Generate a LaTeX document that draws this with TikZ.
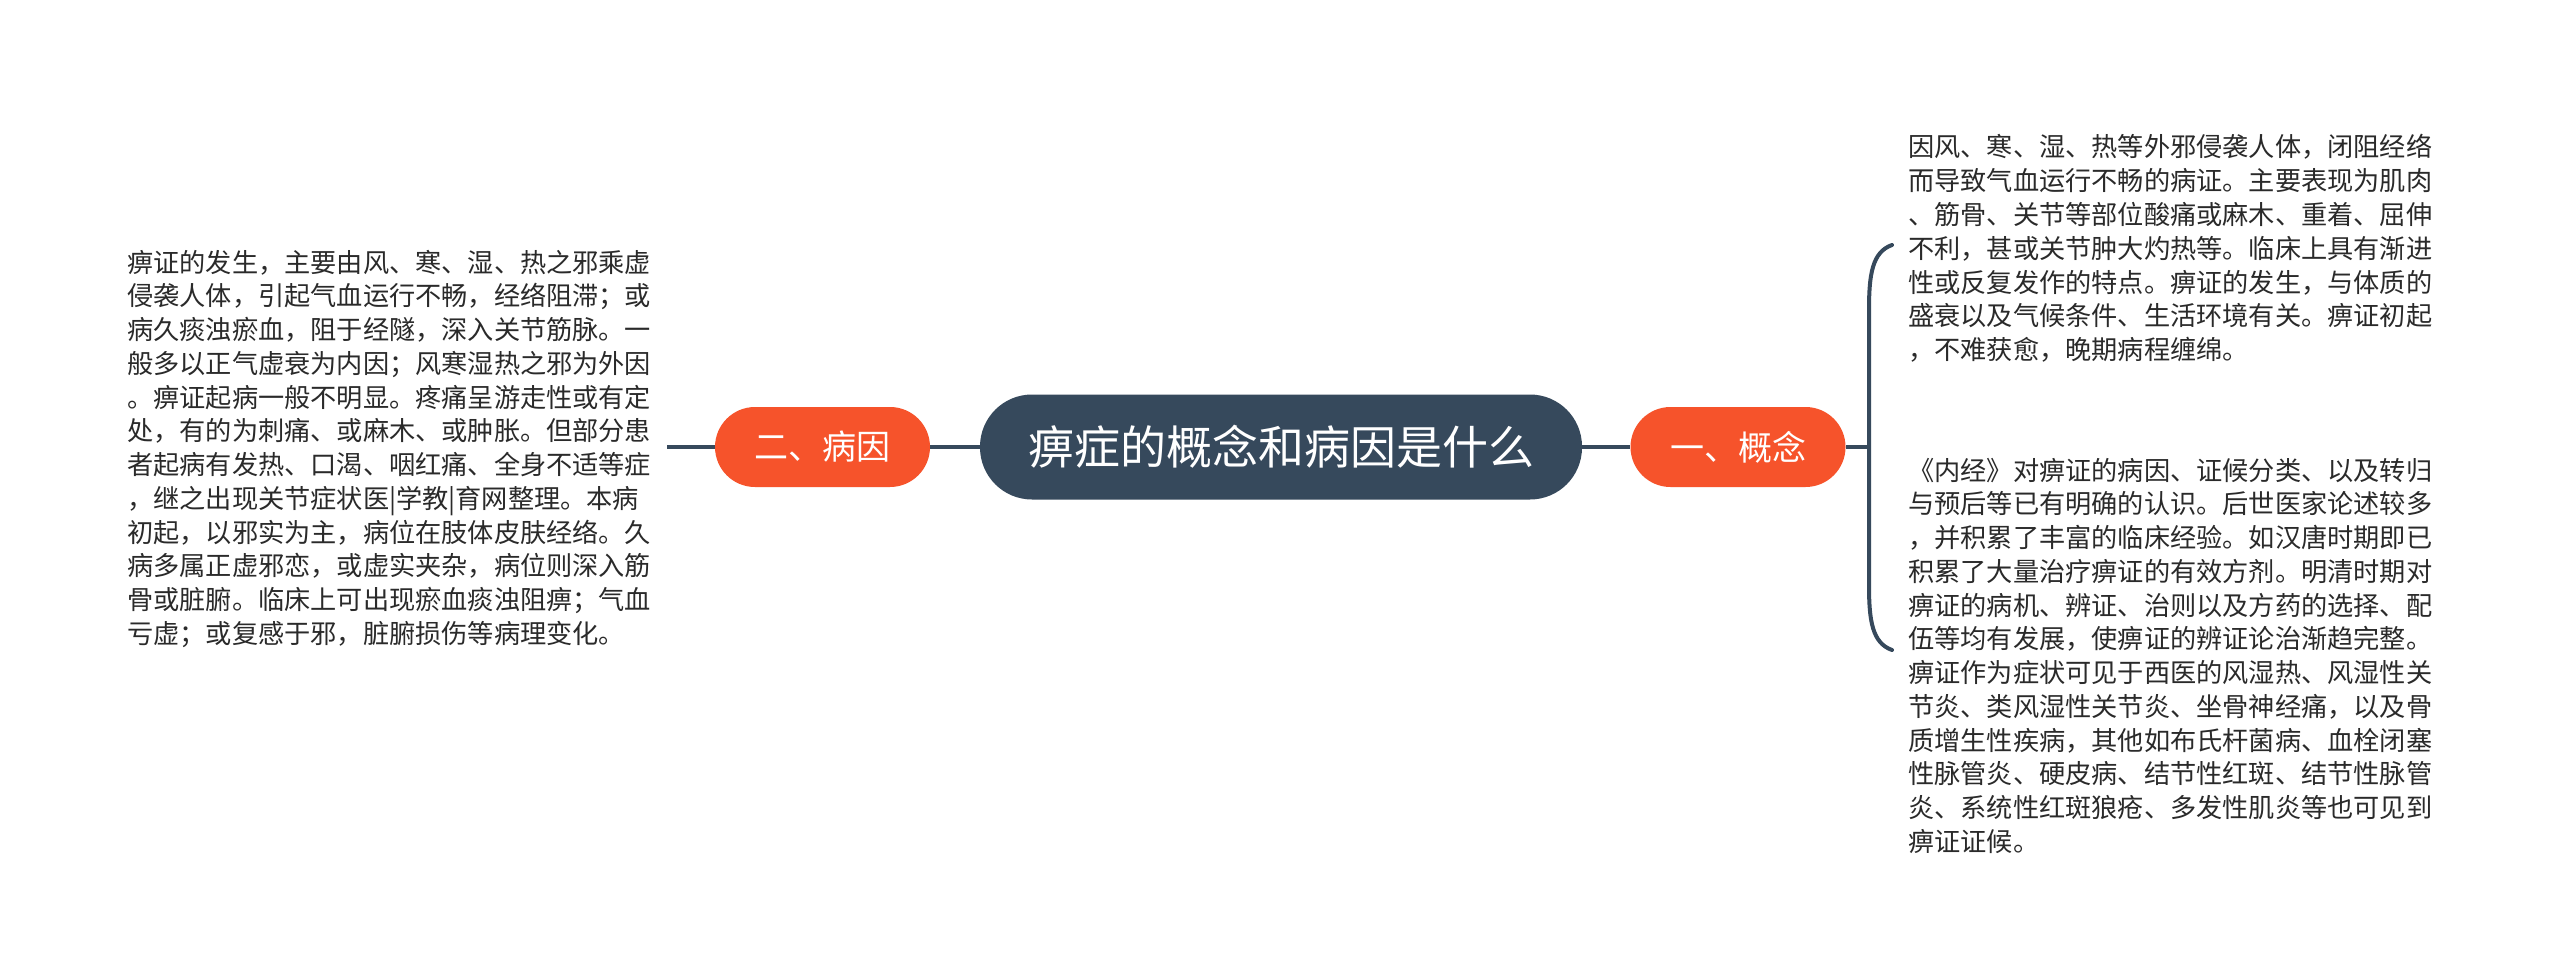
\documentclass[tikz,border=0pt]{standalone}
\usepackage{fontspec}
\newfontfamily\cjk{Noto Sans CJK SC}
\definecolor{mmslate}{HTML}{36495C}
\definecolor{mmorange}{HTML}{F6532B}
\definecolor{mmtext}{HTML}{2A2A2A}
\begin{document}
\begin{tikzpicture}[x=1pt,y=-1pt,
  rootnode/.style={fill=mmslate, rounded corners=52pt, minimum width=602pt, minimum height=105pt, inner sep=0pt, text=white, font=\cjk\fontsize{46}{50}\selectfont},
  branchnode/.style={fill=mmorange, rounded corners=40pt, minimum width=215pt, minimum height=80pt, inner sep=0pt, text=white, font=\cjk\fontsize{34}{40}\selectfont},
  txt/.style={anchor=base west, inner sep=0pt, text=mmtext, font=\cjk\fontsize{26.2}{30}\selectfont},
  link/.style={draw=mmslate, line width=4pt}
]
\useasboundingbox[fill=white] (0,0) rectangle (2560,979);

\node[rootnode] (root) at (1281,447) {痹症的概念和病因是什么};
\node[branchnode] (b2) at (822.5,447) {二、病因};
\node[branchnode] (b1) at (1738,447) {一、概念};

\coordinate (lend) at (667,447);
\coordinate (bm) at (1869,447);
\coordinate (bt) at (1892,245);
\coordinate (bb) at (1892,650);

\draw[link] (root.west) -- (b2.east);
\draw[link] (b2.west) -- (lend);
\draw[link] (root.east) -- (b1.west);
\draw[link] (b1.east) -- (bm);
\draw[link, line cap=round] (bt) .. controls (1872,252) and (1869,275) .. (1869,310) -- (bm) -- (1869,585) .. controls (1869,620) and (1872,643) .. (bb);

\foreach \t [count=\i from 0] in {
痹证的发生，主要由风、寒、湿、热之邪乘虚,
侵袭人体，引起气血运行不畅，经络阻滞；或,
病久痰浊瘀血，阻于经隧，深入关节筋脉。一,
般多以正气虚衰为内因；风寒湿热之邪为外因,
。痹证起病一般不明显。疼痛呈游走性或有定,
处，有的为刺痛、或麻木、或肿胀。但部分患,
者起病有发热、口渴、咽红痛、全身不适等症,
，继之出现关节症状医|学教|育网整理。本病,
初起，以邪实为主，病位在肢体皮肤经络。久,
病多属正虚邪恋，或虚实夹杂，病位则深入筋,
骨或脏腑。临床上可出现瘀血痰浊阻痹；气血,
亏虚；或复感于邪，脏腑损伤等病理变化。}
  {\node[txt] (L\i) at (127,{272+33.75*\i}) {\t};}

\foreach \t [count=\i from 0] in {
因风、寒、湿、热等外邪侵袭人体，闭阻经络,
而导致气血运行不畅的病证。主要表现为肌肉,
、筋骨、关节等部位酸痛或麻木、重着、屈伸,
不利，甚或关节肿大灼热等。临床上具有渐进,
性或反复发作的特点。痹证的发生，与体质的,
盛衰以及气候条件、生活环境有关。痹证初起,
，不难获愈，晚期病程缠绵。}
  {\node[txt] (A\i) at (1908,{157+33.75*\i}) {\t};}

\foreach \t [count=\i from 0] in {
《内经》对痹证的病因、证候分类、以及转归,
与预后等已有明确的认识。后世医家论述较多,
，并积累了丰富的临床经验。如汉唐时期即已,
积累了大量治疗痹证的有效方剂。明清时期对,
痹证的病机、辨证、治则以及方药的选择、配,
伍等均有发展，使痹证的辨证论治渐趋完整。,
痹证作为症状可见于西医的风湿热、风湿性关,
节炎、类风湿性关节炎、坐骨神经痛，以及骨,
质增生性疾病，其他如布氏杆菌病、血栓闭塞,
性脉管炎、硬皮病、结节性红斑、结节性脉管,
炎、系统性红斑狼疮、多发性肌炎等也可见到,
痹证证候。}
  {\node[txt] (B\i) at (1908,{480+33.75*\i}) {\t};}
\end{tikzpicture}
\end{document}
